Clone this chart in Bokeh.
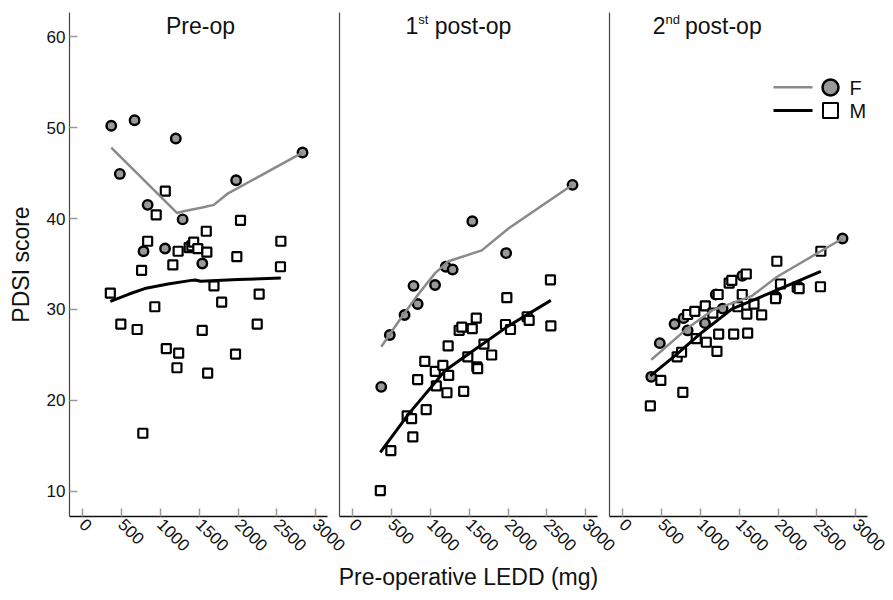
import math
from bokeh.plotting import figure
from bokeh.layouts import row
from bokeh.models import Range1d, FixedTicker, Label, BoxAnnotation
from bokeh.embed import file_html
from bokeh.resources import INLINE

# ---------------- data ----------------
panel_titles = ["Pre-op", "1st post-op", "2nd post-op"]
x_ticks = [0, 500, 1000, 1500, 2000, 2500, 3000]
y_ticks = [10, 20, 30, 40, 50, 60]

# females (pre-operative LEDD, mg) and PDSI scores per assessment
f_ledd = [370, 480, 670, 785, 838, 1062, 1200, 1288, 1541, 1976, 2830]
f_preop = [50.2, 44.9, 50.8, 36.4, 41.5, 36.7, 48.8, 39.9, 35.05, 44.2, 47.25]
f_post1 = [21.5, 27.2, 29.4, 32.6, 30.6, 32.7, 34.7, 34.4, 39.7, 36.2, 43.7]
f_post2 = [22.6, 26.3, 28.4, 29.05, 27.7, 28.5, 31.65, 30.1, 33.7, 31.4, 37.8]

# males
m_ledd = [358, 493, 703, 760, 776, 838, 930, 948, 1065, 1078, 1162, 1215, 1230, 1237, 1372,
          1406, 1430, 1483, 1540, 1592, 1599, 1610, 1691, 1790, 1968, 1985, 2032, 2247, 2272,
          2546, 2551]
m_preop = [31.8, 28.4, 27.8, 34.3, 16.4, 37.5, 30.3, 40.4, 43.0, 25.7, 34.9, 23.6, 36.4, 25.2,
           36.8, 37.0, 37.4, 36.7, 27.7, 38.6, 36.3, 23.0, 32.6, 30.8, 25.1, 35.8, 39.8, 28.4,
           31.7, 34.7, 37.5]
m_post1 = [10.1, 14.5, 18.3, 18.0, 16.0, 22.3, 24.3, 19.0, 23.2, 21.6, 23.85, 20.85, 26.0, 22.75,
           27.7, 28.06, 21.0, 24.8, 27.9, 29.05, 23.7, 23.5, 26.2, 25.0, 28.35, 31.3, 27.8, 29.2,
           28.8, 33.26, 28.2]
m_post2 = [19.4, 22.2, 24.8, 25.3, 20.9, 29.45, 29.8, 26.8, 30.4, 26.4, 29.6, 25.4, 31.65, 27.3,
           32.9, 33.2, 27.3, 30.3, 31.65, 33.9, 29.5, 27.4, 30.6, 29.4, 31.2, 35.3, 32.8, 32.45,
           32.3, 32.5, 36.4]

# smoothed curves
f_fit_x_pre = [370, 1218, 1300, 1541, 1689, 1861, 2830]
f_fit_pre = [47.8, 40.6, 40.8, 41.2, 41.5, 42.7, 47.25]
m_fit_x_pre = [358, 600, 800, 1100, 1400, 1450, 1520, 2000, 2551]
m_fit_pre = [30.9, 31.7, 32.3, 32.8, 33.2, 33.25, 33.1, 33.3, 33.45]

f_fit_x_post1 = [370, 635, 849, 1063, 1235, 1663, 2006, 2830]
f_fit_post1 = [25.9, 29.2, 31.7, 34.0, 35.3, 36.5, 38.9, 43.7]
m_fit_x_post1 = [358, 720, 1192, 1492, 2006, 2551]
m_fit_post1 = [14.3, 18.5, 23.3, 25.1, 28.2, 31.0]

f_fit_x_post2 = [370, 853, 1153, 1667, 1989, 2830]
f_fit_post2 = [24.47, 28.06, 29.9, 31.5, 33.6, 37.8]
m_fit_x_post2 = [358, 681, 1024, 1410, 1924, 2551]
m_fit_post2 = [22.7, 24.95, 27.5, 30.07, 31.9, 34.2]

# ---------------- style ----------------
FONT = "Liberation Sans"
F_FILL = "#999999"
F_LINE = "#8a8a8a"
X_RANGE = (-167, 3151)
Y_RANGE = (7.25, 62.64)
OVERLAP = 34


def make_fig(width, left, right, first):
    p = figure(width=width, height=596, output_backend="svg", toolbar_location=None,
               x_range=Range1d(*X_RANGE), y_range=Range1d(*Y_RANGE),
               min_border_left=left, min_border_right=right,
               min_border_top=12, min_border_bottom=80)
    p.outline_line_color = None
    p.grid.visible = False
    p.background_fill_color = "white"
    p.border_fill_color = "white"
    p.border_fill_alpha = 0

    xa = p.xaxis[0]
    xa.ticker = FixedTicker(ticks=x_ticks)
    xa.major_label_orientation = -math.pi / 4
    xa.major_tick_in = 8
    xa.major_tick_out = 0
    xa.minor_tick_line_color = None
    xa.major_tick_line_color = "#9a9a9a"
    xa.major_tick_line_width = 1.5
    xa.axis_line_color = "#111111"
    xa.axis_line_width = 1.5
    xa.major_label_text_font = FONT
    xa.major_label_text_font_size = "17px"
    xa.major_label_text_color = "#111111"
    xa.major_label_standoff = 5

    ya = p.yaxis[0]
    ya.axis_line_color = "#444444"
    ya.axis_line_width = 1.2
    ya.minor_tick_line_color = None
    if first:
        ya.ticker = FixedTicker(ticks=y_ticks)
        ya.major_tick_in = 8
        ya.major_tick_out = 0
        ya.major_tick_line_color = "#9a9a9a"
        ya.major_tick_line_width = 1.5
        ya.major_label_text_font = FONT
        ya.major_label_text_font_size = "17px"
        ya.major_label_text_color = "#111111"
        ya.major_label_standoff = 4
        ya.axis_label = "PDSI score"
        ya.axis_label_text_font = FONT
        ya.axis_label_text_font_size = "23px"
        ya.axis_label_text_font_style = "normal"
        ya.axis_label_text_color = "#111111"
        ya.axis_label_standoff = 10
    else:
        ya.ticker = FixedTicker(ticks=[])
        ya.major_tick_in = 0
        ya.major_tick_out = 0
        ya.major_label_standoff = 0
    return p


def draw(p, fy, my, ffx, ffy, mfx, mfy):
    p.scatter(f_ledd, fy, marker="circle", size=9.5, fill_color=F_FILL,
              line_color="#000000", line_width=2.4)
    p.scatter(m_ledd, my, marker="square", size=9, fill_color="white",
              line_color="#000000", line_width=2.2)
    p.line(ffx, ffy, line_color=F_LINE, line_width=2.5)
    p.line(mfx, mfy, line_color="#000000", line_width=3)


def title_label(p, x, text, align="center", size="23px", y=61.21, x_offset=0, y_offset=0):
    p.add_layout(Label(x=x, y=y, text=text, text_align=align, text_baseline="alphabetic",
                       text_font=FONT, text_font_size=size, text_color="#111111",
                       x_offset=x_offset, y_offset=y_offset))


p1 = make_fig(69 + 258 + 40, 69, 40, True)
draw(p1, f_preop, m_preop, f_fit_x_pre, f_fit_pre, m_fit_x_pre, m_fit_pre)
title_label(p1, 1518, panel_titles[0])

p2 = make_fig(6 + 258 + 40, 6, 40, False)
p2.margin = (0, 0, 0, -OVERLAP)
draw(p2, f_post1, m_post1, f_fit_x_post1, f_fit_post1, m_fit_x_post1, m_fit_post1)
title_label(p2, 845, "1", align="right")
title_label(p2, 845, "st", align="left", size="13px", y_offset=6)
title_label(p2, 845, "post-op", align="left", x_offset=16.5)
x2 = p2.xaxis[0]
x2.axis_label = "Pre-operative LEDD (mg)"
x2.axis_label_text_font = FONT
x2.axis_label_text_font_size = "23px"
x2.axis_label_text_font_style = "normal"
x2.axis_label_text_color = "#111111"
x2.axis_label_standoff = 4

p3 = make_fig(6 + 258 + 25, 6, 25, False)
p3.margin = (0, 0, 0, -OVERLAP)
draw(p3, f_post2, m_post2, f_fit_x_post2, f_fit_post2, m_fit_x_post2, m_fit_post2)
title_label(p3, 553, "2", align="right")
title_label(p3, 553, "nd", align="left", size="13px", y_offset=6)
title_label(p3, 553, "post-op", align="left", x_offset=19.5)

# legend (drawn in screen units relative to the plot frame)
def sbox(**kw):
    return BoxAnnotation(left_units="screen", right_units="screen",
                         top_units="screen", bottom_units="screen", **kw)

p3.add_layout(sbox(left=164, right=203, bottom=428, top=430.5,
                   fill_color=F_LINE, fill_alpha=1, line_color=None))
p3.add_layout(sbox(left=164, right=203, bottom=404.5, top=407.5,
                   fill_color="#000000", fill_alpha=1, line_color=None))
p3.add_layout(sbox(left=213, right=229, bottom=421, top=437, border_radius=8,
                   fill_color=F_FILL, fill_alpha=1, line_color="#000000", line_width=2.5,
                   line_alpha=1))
p3.add_layout(sbox(left=213.5, right=228.5, bottom=398.5, top=413.5,
                   fill_color="white", fill_alpha=1, line_color="#000000", line_width=2,
                   line_alpha=1))
for txt, yy in (("F", 428.7), ("M", 406)):
    p3.add_layout(Label(x=240, y=yy, x_units="screen", y_units="screen", text=txt,
                        text_align="left", text_baseline="middle", text_font=FONT,
                        text_font_size="20px", text_color="#111111"))

layout = row(p1, p2, p3, spacing=0)
open("out.html", "w").write(file_html(layout, INLINE))
